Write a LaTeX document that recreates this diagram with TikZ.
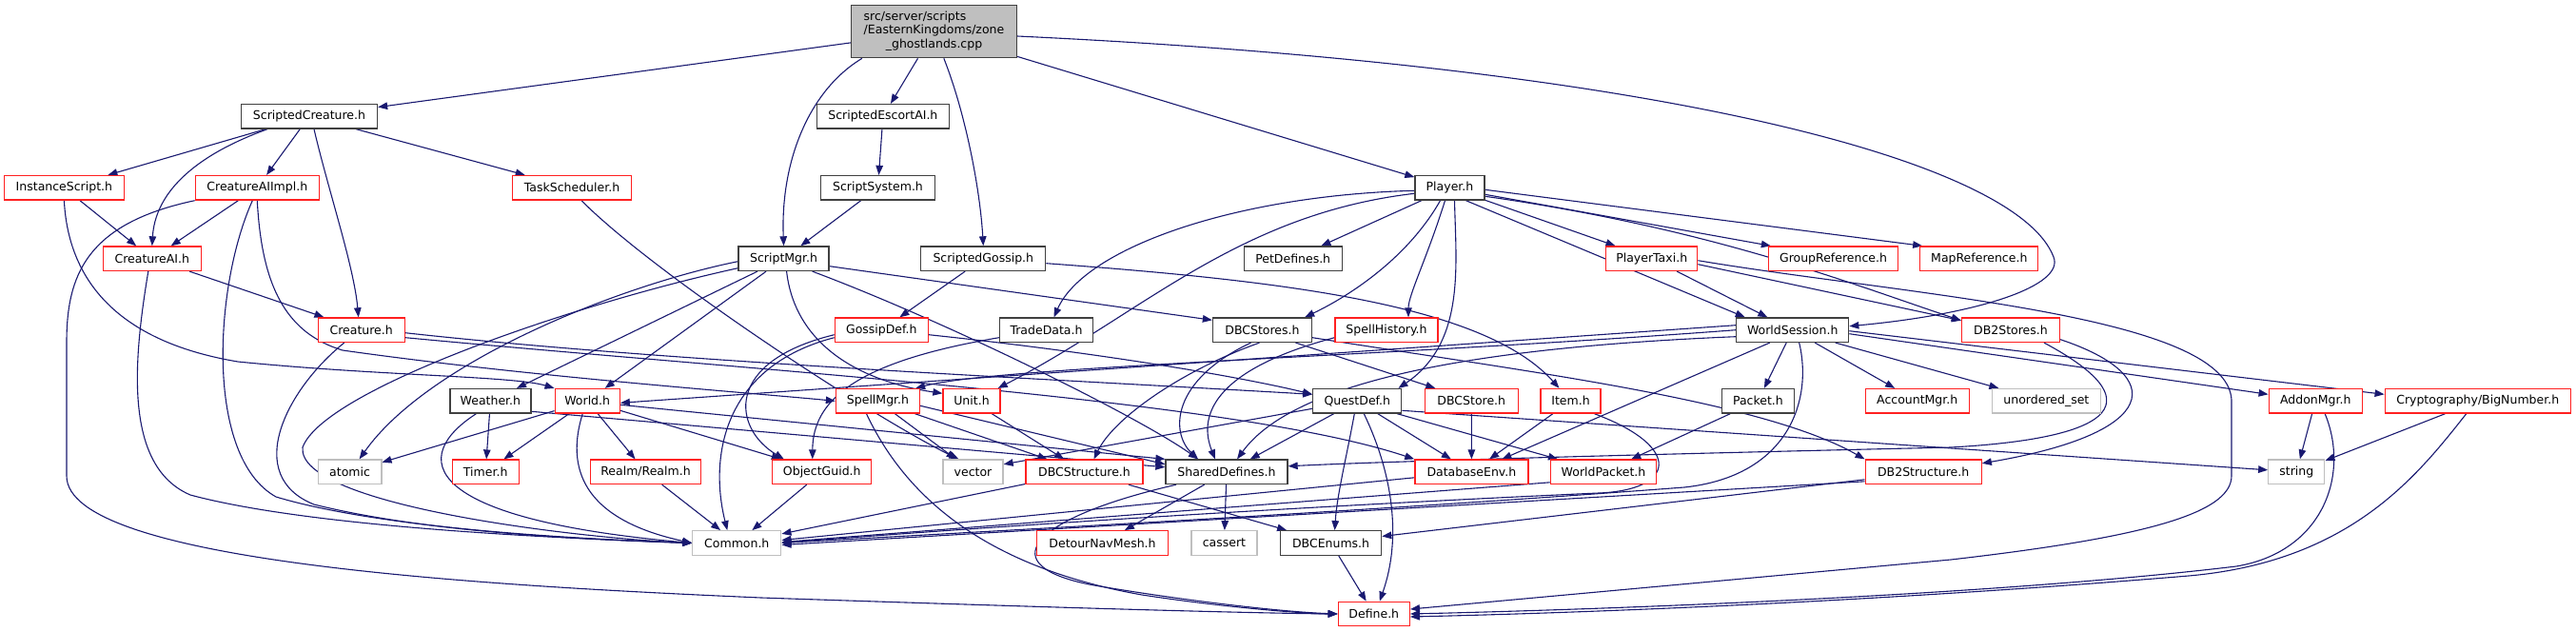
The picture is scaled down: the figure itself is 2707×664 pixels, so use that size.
\documentclass[tikz,border=0pt]{standalone}
\usepackage{fontspec}
\setmainfont{DejaVu Sans}
\usetikzlibrary{arrows.meta}
\definecolor{edgec}{HTML}{191970}
\definecolor{boxblack}{HTML}{404040}
\definecolor{boxred}{HTML}{FF2020}
\definecolor{boxgray}{HTML}{BFBFBF}
\pgfdeclarelayer{bg}
\pgfsetlayers{bg,main}
\begin{document}
\begin{tikzpicture}[x=1pt,y=-1pt,
  box/.style={draw, line width=1.3pt, inner sep=0pt, minimum height=25.5pt, fill=white, text=black, font=\fontsize{12.5}{14.7}\selectfont},
  bk/.style={box, draw=boxblack},
  rd/.style={box, draw=boxred},
  gr/.style={box, draw=boxgray},
  e/.style={draw=edgec, line width=1.1pt, -{Triangle[length=10pt,width=7.5pt]}}]
\useasboundingbox (0,0) rectangle (2707,664);
% nodes
\node[bk, minimum width=174pt, minimum height=55.4pt, fill=boxgray] (main) at (981.5,33) {\begin{tabular}{@{}l@{}}src/server/scripts\\/EasternKingdoms/zone\\\multicolumn{1}{@{}c@{}}{\_ghostlands.cpp}\end{tabular}};
\node[bk, minimum width=143pt] (SC) at (325,122.3) {ScriptedCreature.h};
\node[bk, minimum width=139pt] (SEAI) at (927.9,122.3) {ScriptedEscortAI.h};
\node[bk, minimum width=120pt] (SSys) at (922.5,197.3) {ScriptSystem.h};
\node[bk, minimum width=95pt] (SMgr) at (823.6,271.7) {ScriptMgr.h};
\node[bk, minimum width=131pt] (SGos) at (1033.3,271.7) {ScriptedGossip.h};
\node[bk, minimum width=73pt] (Player) at (1523.5,197.3) {Player.h};
\node[rd, minimum width=126pt] (IS) at (67.4,197.3) {InstanceScript.h};
\node[rd, minimum width=130pt] (CAIImpl) at (270.3,197.3) {CreatureAIImpl.h};
\node[rd, minimum width=125pt] (TS) at (601,197.3) {TaskScheduler.h};
\node[rd, minimum width=103pt] (CAI) at (159.8,271.7) {CreatureAI.h};
\node[rd, minimum width=91pt] (Creature) at (379.7,346.7) {Creature.h};
\node[bk, minimum width=103pt] (PetDef) at (1358.7,271.7) {PetDefines.h};
\node[rd, minimum width=96pt] (PTaxi) at (1735.7,271.7) {PlayerTaxi.h};
\node[rd, minimum width=136pt] (GroupRef) at (1926.5,271.7) {GroupReference.h};
\node[rd, minimum width=124pt] (MapRef) at (2079.8,271.7) {MapReference.h};
\node[rd, minimum width=98pt] (Gossip) at (926.3,346.7) {GossipDef.h};
\node[bk, minimum width=98pt] (Trade) at (1099.5,346.7) {TradeData.h};
\node[bk, minimum width=104pt] (DBCStores) at (1326.5,346.7) {DBCStores.h};
\node[rd, minimum width=108pt] (SpellHist) at (1457,346.7) {SpellHistory.h};
\node[bk, minimum width=118pt] (WS) at (1883.7,346.7) {WorldSession.h};
\node[rd, minimum width=103pt] (DB2Stores) at (2113,346.7) {DB2Stores.h};
\node[bk, minimum width=85pt] (Weather) at (515.4,421.3) {Weather.h};
\node[rd, minimum width=68pt] (World) at (617.2,421.3) {World.h};
\node[rd, minimum width=88pt] (SpellMgr) at (922.5,421.3) {SpellMgr.h};
\node[rd, minimum width=60pt] (Unit) at (1021,421.3) {Unit.h};
\node[bk, minimum width=93pt] (QuestDef) at (1426.3,421.3) {QuestDef.h};
\node[rd, minimum width=98pt] (DBCStore) at (1546.3,421.3) {DBCStore.h};
\node[rd, minimum width=63pt] (Item) at (1650.5,421.3) {Item.h};
\node[bk, minimum width=76pt] (Packet) at (1847.4,421.3) {Packet.h};
\node[rd, minimum width=109pt] (AcctMgr) at (2014.7,421.3) {AccountMgr.h};
\node[gr, minimum width=114pt] (uset) at (2150.4,421.3) {unordered\_set};
\node[rd, minimum width=98pt] (Addon) at (2433.2,421.3) {AddonMgr.h};
\node[rd, minimum width=195pt] (BigNum) at (2603.7,421.3) {Cryptography/BigNumber.h};
\node[gr, minimum width=66.5pt] (atomic) at (367.6,495.8) {atomic};
\node[rd, minimum width=70pt] (Timer) at (510.2,495.8) {Timer.h};
\node[rd, minimum width=116pt] (Realm) at (678.5,495.8) {Realm/Realm.h};
\node[rd, minimum width=104pt] (OGuid) at (863.8,495.8) {ObjectGuid.h};
\node[gr, minimum width=63pt] (vector) at (1022.5,495.8) {vector};
\node[rd, minimum width=123pt] (DBCStruct) at (1139.5,495.8) {DBCStructure.h};
\node[bk, minimum width=128pt] (Shared) at (1289,495.8) {SharedDefines.h};
\node[rd, minimum width=119pt] (DBEnv) at (1546.4,495.8) {DatabaseEnv.h};
\node[rd, minimum width=111pt] (WPacket) at (1685,495.8) {WorldPacket.h};
\node[rd, minimum width=122pt] (DB2Struct) at (2021.2,495.8) {DB2Structure.h};
\node[gr, minimum width=59pt] (string) at (2413.3,495.8) {string};
\node[gr, minimum width=93pt] (Common) at (774.3,570.5) {Common.h};
\node[rd, minimum width=137.5pt] (Detour) at (1158.5,570.5) {DetourNavMesh.h};
\node[gr, minimum width=69pt] (cassert) at (1286.4,570.5) {cassert};
\node[bk, minimum width=106pt] (DBCEnums) at (1398.6,570.5) {DBCEnums.h};
\node[rd, minimum width=75pt] (Define) at (1443.8,645) {Define.h};
% edges
\begin{pgfonlayer}{bg}
\fill[white] (0,0) rectangle (2707,664);
% main
\draw[e] (main) -- (SC);
\draw[e] (main) -- (SEAI);
\draw[e] ([xshift=12pt]main.south west) .. controls (850,95) and (820,170) .. (SMgr.north);
\draw[e] ([xshift=98pt]main.south west) .. controls (1015,120) and (1030,200) .. (SGos.north);
\draw[e] (main) -- (Player);
\draw[e] ([yshift=-5pt]main.east) .. controls (1750,70) and (2120,170) .. (2158,270) .. controls (2170,300) and (2080,330) .. ([yshift=4pt]WS.east);
% ScriptedCreature
\draw[e] (SC) -- (IS);
\draw[e] ([xshift=-44pt]SC.south) .. controls (200,165) and (163,205) .. (CAI.north);
\draw[e] (SC) -- (CAIImpl);
\draw[e] ([xshift=5pt]SC.south) .. controls (345,200) and (372,280) .. ([xshift=-3pt]Creature.north);
\draw[e] (SC) -- (TS);
\draw[e] (SEAI) -- (SSys);
\draw[e] (SSys) -- (SMgr);
\draw[e] (SGos) -- (Gossip);
\draw[e] ([yshift=-5pt]SGos.east) .. controls (1350,295) and (1560,320) .. ([xshift=-12pt]Item.north);
% InstanceScript
\draw[e] (IS) -- (CAI);
\draw[e] (IS.south) .. controls (72,300) and (130,360) .. (250,380) .. controls (400,395) and (540,395) .. (World.north west);
% CreatureAIImpl
\draw[e] (CAIImpl) -- (CAI);
\draw[e] (CAIImpl.south west) .. controls (90,235) and (70,290) .. (70,360) -- (70,500) .. controls (70,590) and (500,615) .. (800,628) .. controls (1100,638) and (1300,644) .. (Define.west);
\draw[e] ([xshift=-5pt]CAIImpl.south) .. controls (225,300) and (215,480) .. (290,522) .. controls (400,555) and (600,566) .. (Common.west);
\draw[e] (CAIImpl.south) .. controls (275,300) and (300,350) .. (360,368) .. controls (550,395) and (780,412) .. (SpellMgr.west);
\draw[e] ([xshift=10pt]TS.south) .. controls (690,290) and (920,440) .. ([xshift=-15pt]vector.north);
% CreatureAI
\draw[e] (CAI) -- (Creature);
\draw[e] ([xshift=-4pt]CAI.south) .. controls (140,380) and (130,490) .. (200,520) .. controls (330,555) and (600,566) .. (Common.west);
% Creature
\draw[e] ([xshift=-18pt]Creature.south) .. controls (300,410) and (255,500) .. (330,530) .. controls (450,560) and (620,567) .. (Common.west);
\draw[e] ([yshift=-3pt]Creature.east) .. controls (700,380) and (1100,398) .. ([yshift=7pt]QuestDef.west);
\draw[e] ([yshift=-8pt]Creature.east) .. controls (800,390) and (1300,420) .. (DBEnv.north west);
% ScriptMgr
\draw[e] (SMgr) -- (Weather);
\draw[e] (SMgr) -- (World);
\draw[e] ([yshift=-3pt]SMgr.west) .. controls (650,300) and (450,380) .. ([xshift=10pt]atomic.north);
\draw[e] ([yshift=-10pt]SMgr.west) .. controls (600,320) and (340,410) .. (318,470) .. controls (312,530) and (600,565) .. (Common.west);
\draw[e] ([xshift=3pt]SMgr.south) .. controls (835,360) and (900,400) .. ([yshift=8pt]Unit.west);
\draw[e] ([xshift=30pt]SMgr.south) .. controls (1000,340) and (1200,440) .. ([xshift=-30pt]Shared.north);
\draw[e] ([yshift=-8pt]SMgr.east) -- ([yshift=-3pt]DBCStores.north west);
% GossipDef, TradeData
\draw[e] ([yshift=-5pt]Gossip.west) .. controls (760,380) and (770,450) .. ([xshift=-40pt]OGuid.north);
\draw[e] ([yshift=-8pt]Gossip.west) .. controls (760,385) and (745,480) .. ([xshift=-10pt]Common.north);
\draw[e] ([yshift=-5pt]Gossip.east) .. controls (1150,370) and (1300,395) .. ([yshift=7pt]QuestDef.west);
\draw[e] ([yshift=-8pt]Trade.west) .. controls (900,380) and (854,420) .. ([xshift=-10pt]OGuid.north);
% World, Weather
\draw[e] (World) -- (atomic);
\draw[e] (World) -- (Timer);
\draw[e] (World) -- (Realm);
\draw[e] ([yshift=-10pt]World.east) -- ([xshift=-43pt]OGuid.north);
\draw[e] ([yshift=-4pt]World.east) -- (Shared.north west);
\draw[e] ([xshift=-5pt]World.south) .. controls (595,490) and (610,545) .. (Common.west);
\draw[e] (Weather) -- (Timer);
\draw[e] ([xshift=-15pt]Weather.south) .. controls (430,480) and (440,545) .. (Common.west);
\draw[e] ([yshift=-11pt]Weather.east) -- ([yshift=5pt]Shared.west);
% SpellMgr, Unit
\draw[e] (SpellMgr) -- (vector);
\draw[e] (SpellMgr) -- (DBCStruct);
\draw[e] ([yshift=-5pt]SpellMgr.east) -- ([yshift=8pt]Shared.west);
\draw[e] ([xshift=-12pt]SpellMgr.south) .. controls (960,540) and (1060,600) .. (1200,625) .. controls (1300,640) and (1380,645) .. (Define.west);
\draw[e] (Unit) -- (DBCStruct);
\draw[e] (OGuid) -- (Common);
\draw[e] (Realm) -- (Common);
% DBCStores, SpellHistory
\draw[e] ([xshift=-12pt]DBCStores.south) .. controls (1230,400) and (1230,455) .. ([xshift=-30pt]Shared.north);
\draw[e] ([xshift=-3pt]DBCStores.south) .. controls (1240,390) and (1170,440) .. ([xshift=10pt]DBCStruct.north);
\draw[e] ([xshift=35pt]DBCStores.south) -- ([xshift=-38pt]DBCStore.north);
\draw[e] ([yshift=-8pt]DBCStores.east) .. controls (1600,390) and (1850,420) .. (DB2Struct.north west);
\draw[e] ([yshift=-8pt]SpellHist.west) .. controls (1270,390) and (1260,440) .. ([xshift=-12pt]Shared.north);
% QuestDef
\draw[e] (QuestDef) -- (Shared);
\draw[e] ([yshift=-8pt]QuestDef.west) -- ([yshift=8pt]vector.east);
\draw[e] (QuestDef) -- (DBEnv);
\draw[e] ([xshift=42pt]QuestDef.south) -- ([xshift=-48pt]WPacket.north);
\draw[e] ([xshift=-3pt]QuestDef.south) .. controls (1415,480) and (1405,520) .. ([xshift=4pt]DBCEnums.north);
\draw[e] ([xshift=7pt]QuestDef.south) .. controls (1460,490) and (1475,560) .. ([xshift=6pt]Define.north);
\draw[e] ([yshift=-10pt]QuestDef.east) -- ([yshift=2pt]string.west);
\draw[e] (DBCStore) -- (DBEnv);
\draw[e] (Item) -- (DBEnv);
\draw[e] ([xshift=25pt]Item.south) .. controls (1770,470) and (1760,515) .. (1680,518) .. controls (1300,535) and (950,560) .. (Common.east);
% WorldSession
\draw[e] (WS) -- (Packet);
\draw[e] (WS) -- (AcctMgr);
\draw[e] ([xshift=45pt]WS.south) -- ([xshift=-50pt]uset.north);
\draw[e] ([yshift=-4pt]WS.east) -- ([yshift=7pt]Addon.west);
\draw[e] ([yshift=-1pt]WS.east) -- ([yshift=7pt]BigNum.west);
\draw[e] ([xshift=-24pt]WS.south) -- ([xshift=32pt]DBEnv.north);
\draw[e] ([xshift=7pt]WS.south) .. controls (1905,420) and (1880,500) .. (1770,512) .. controls (1400,540) and (1000,560) .. (Common.east);
\draw[e] ([yshift=5pt]WS.west) -- ([yshift=-2pt]World.east);
\draw[e] (WS.west) .. controls (1450,375) and (1050,385) .. ([xshift=-5pt]SpellMgr.north east);
\draw[e] ([yshift=-7pt]WS.west) .. controls (1550,365) and (1360,400) .. ([xshift=11pt]Shared.north);
\draw[e] (Packet) -- (WPacket);
% bottom rows
\draw[e] ([yshift=-6pt]DBEnv.west) -- ([yshift=3pt]Common.east);
\draw[e] ([yshift=-11pt]WPacket.west) -- ([yshift=1pt]Common.east);
\draw[e] (DBCStruct) -- (Common);
\draw[e] (DBCStruct) -- (DBCEnums);
\draw[e] (Shared) -- (Detour);
\draw[e] (Shared) -- (cassert);
\draw[e] ([xshift=-53pt]Shared.south) .. controls (1080,545) and (1040,595) .. (1150,615) .. controls (1250,632) and (1350,643) .. (Define.west);
\draw[e] ([yshift=-10pt]DB2Struct.west) -- ([yshift=-2pt]Common.east);
\draw[e] ([yshift=-8pt]DB2Struct.west) -- ([yshift=7pt]DBCEnums.east);
\draw[e] (DBCEnums) -- (Define);
% DB2Stores, PlayerTaxi
\draw[e] ([xshift=35pt]DB2Stores.south) .. controls (2260,420) and (2230,460) .. (2050,470) .. controls (1700,478) and (1450,485) .. ([yshift=6pt]Shared.east);
\draw[e] ([yshift=-10pt]DB2Stores.east) .. controls (2280,395) and (2270,455) .. ([yshift=9pt]DB2Struct.east);
\draw[e] (PTaxi) -- (WS);
\draw[e] ([yshift=-6pt]PTaxi.east) -- ([yshift=10pt]DB2Stores.west);
\draw[e] ([yshift=-2pt]PTaxi.east) .. controls (2000,310) and (2340,330) .. (2345,420) -- (2345,500) .. controls (2345,540) and (2250,565) .. (2050,588) -- ([yshift=5pt]Define.east);
% AddonMgr, BigNumber
\draw[e] (Addon) -- (string);
\draw[e] ([xshift=10pt]Addon.south) .. controls (2470,500) and (2440,580) .. (2350,595) .. controls (2100,625) and (1700,640) .. (Define.east);
\draw[e] (BigNum) -- (string);
\draw[e] ([xshift=-12pt]BigNum.south) .. controls (2540,500) and (2470,590) .. (2300,605) .. controls (2000,630) and (1700,643) .. ([yshift=-3pt]Define.east);
% Player
\draw[e] (Player) -- (PetDef);
\draw[e] (Player) -- (PTaxi);
\draw[e] ([yshift=-7pt]Player.east) -- ([xshift=3pt]GroupRef.north west);
\draw[e] ([yshift=-2pt]Player.east) -- ([xshift=3pt]MapRef.north west);
\draw[e] ([yshift=-9pt]Player.east) .. controls (1800,240) and (1950,300) .. ([yshift=10pt]DB2Stores.west);
\draw[e] ([xshift=17pt]Player.south) -- ([xshift=-50pt]WS.north);
\draw[e] ([xshift=-10pt]Player.south) .. controls (1480,270) and (1420,310) .. ([xshift=-8pt]DBCStores.north east);
\draw[e] ([xshift=-5pt]Player.south) .. controls (1500,270) and (1480,310) .. ([xshift=23pt]SpellHist.north);
\draw[e] ([xshift=5pt]Player.south) .. controls (1530,280) and (1540,360) .. ([xshift=-4pt]QuestDef.north east);
\draw[e] ([yshift=-3pt]Player.west) .. controls (1300,205) and (1140,260) .. ([xshift=8pt]Trade.north);
\draw[e] ([yshift=-6pt]Player.west) .. controls (1300,225) and (1200,330) .. ([xshift=-3pt]Unit.north east);
\end{pgfonlayer}
\end{tikzpicture}
\end{document}
